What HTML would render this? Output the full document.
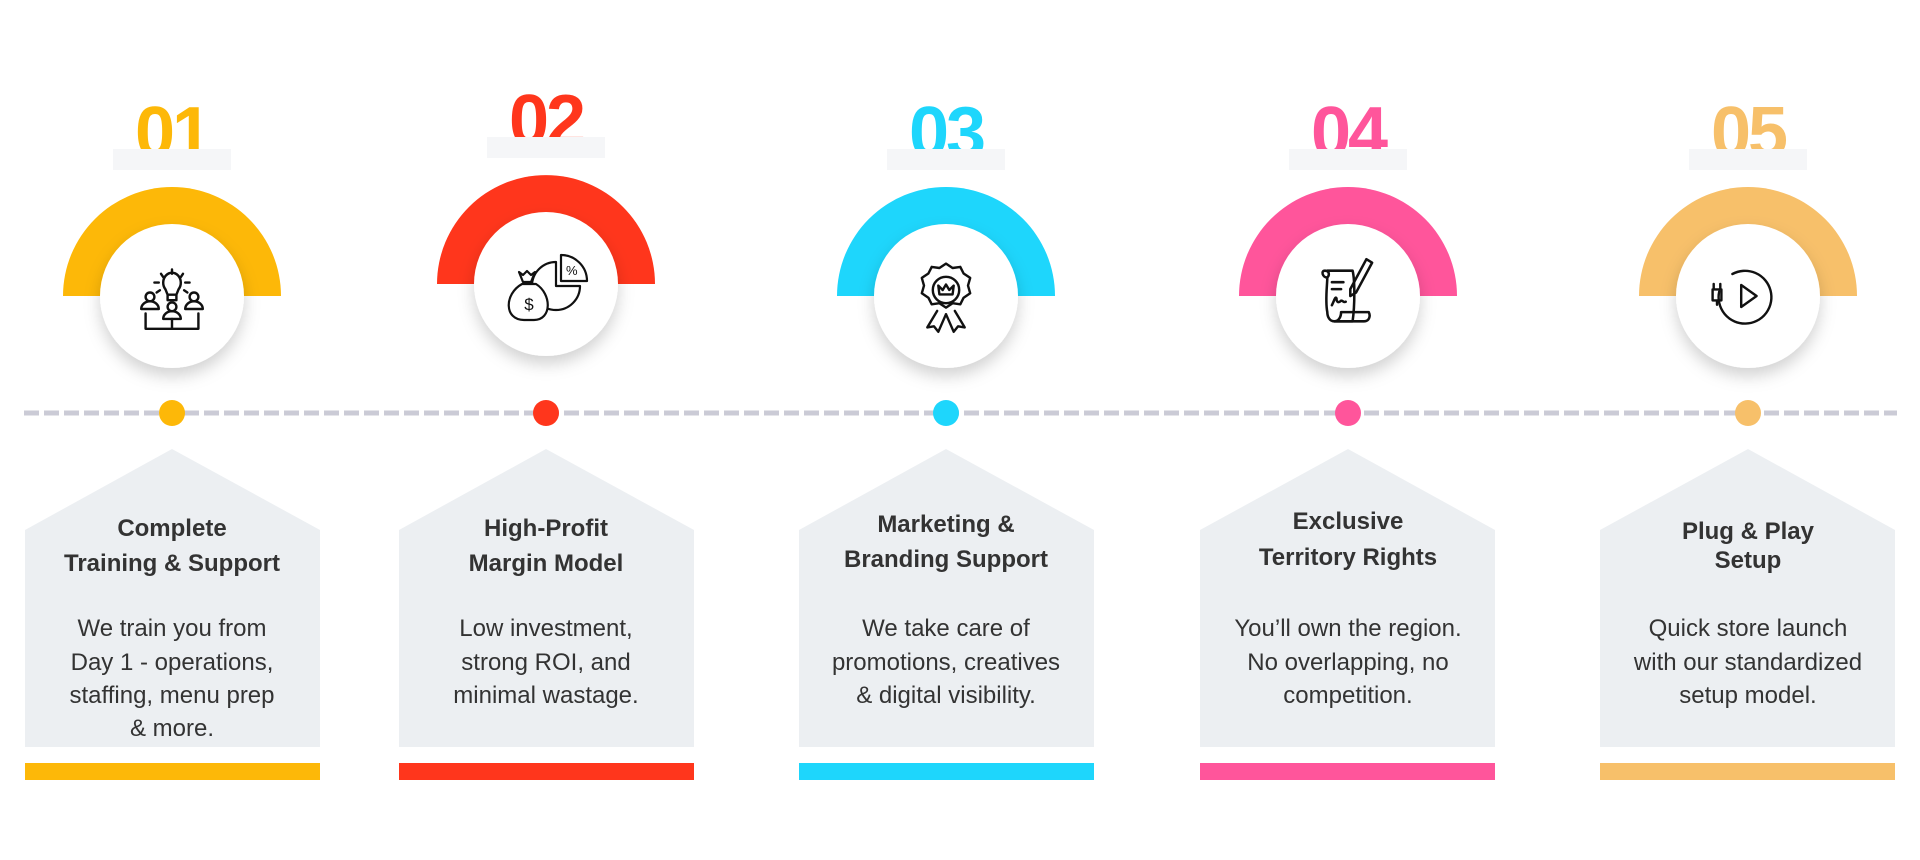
<!DOCTYPE html>
<html><head><meta charset="utf-8"><style>
html,body{margin:0;padding:0;background:#fff;width:1920px;height:860px;overflow:hidden}
svg{display:block}
.num{font-family:"Liberation Sans",sans-serif;font-weight:bold;font-size:72px;letter-spacing:-3px}
.t{font-family:"Liberation Sans",sans-serif;font-weight:bold;font-size:24px;fill:#333}
.b{font-family:"Liberation Sans",sans-serif;font-size:24px;fill:#333}
.ic{fill:none;stroke:#111;stroke-width:2.2;stroke-linecap:round;stroke-linejoin:round}
</style></head><body>
<svg width="1920" height="860" viewBox="0 0 1920 860" xmlns="http://www.w3.org/2000/svg">
<defs>
<filter id="sh" x="-40%" y="-40%" width="180%" height="180%">
<feDropShadow dx="0" dy="8" stdDeviation="8" flood-color="#000" flood-opacity="0.18"/>
</filter>
</defs>

<line x1="24" y1="413" x2="1897" y2="413" stroke="#cbcbd6" stroke-width="5" stroke-dasharray="15 5"/>

<!-- Column 1 -->
<g>
<text x="172" y="157" text-anchor="middle" class="num" fill="#fdb808">01</text>
<rect x="113" y="149" width="118" height="21" fill="#f5f6f8"/>
<path d="M63 296 A109 109 0 0 1 281 296 Z" fill="#fdb808"/>
<circle cx="172" cy="296" r="72" fill="#fff" filter="url(#sh)"/>
<g class="ic" transform="translate(172,298) scale(1.1)">
<path d="M-6 -8 a8 9 0 1 1 12 0 l-2 5 h-8 z M-4 -3 v5 h8 v-5"/>
<path d="M0 -26 v4 M-10 -22 l2 3 M10 -22 l-2 3 M-16 -14 h4 M16 -14 h-4 M-14 -5 l3 -2 M14 -5 l-3 -2"/>
<circle cx="-20" cy="-1" r="4"/><path d="M-28 10 a8 7 0 0 1 16 0 z"/>
<circle cx="20" cy="-1" r="4"/><path d="M12 10 a8 7 0 0 1 16 0 z"/>
<circle cx="0" cy="8" r="4"/><path d="M-8 19 a8 7 0 0 1 16 0 z"/>
<path d="M-24 14 v14 h48 v-14 M0 19 v9"/>
</g>
<circle cx="172" cy="413" r="13" fill="#fdb808"/>
<path d="M25 530 L172 449 L320 530 V747 H25 Z" fill="#eceff2"/>
<rect x="25" y="763" width="295" height="17" fill="#fdb808"/>
<text x="172" y="536" text-anchor="middle" class="t">Complete</text>
<text x="172" y="571" text-anchor="middle" class="t">Training &amp; Support</text>
<text x="172" y="636" text-anchor="middle" class="b">We train you from</text>
<text x="172" y="670" text-anchor="middle" class="b">Day 1 - operations,</text>
<text x="172" y="703" text-anchor="middle" class="b">staffing, menu prep</text>
<text x="172" y="736" text-anchor="middle" class="b">&amp; more.</text>
</g>

<!-- Column 2 -->
<g>
<text x="546" y="145" text-anchor="middle" class="num" fill="#ff361c">02</text>
<rect x="487" y="137" width="118" height="21" fill="#f5f6f8"/>
<path d="M437 284 A109 109 0 0 1 655 284 Z" fill="#ff361c"/>
<circle cx="546" cy="284" r="72" fill="#fff" filter="url(#sh)"/>
<g class="ic" transform="translate(546,286)">
<path d="M10 0 L10 -24 A24 24 0 1 0 34 0 Z"/>
<path d="M15 -5 L15 -31 A26 26 0 0 1 41 -5 Z"/>
<text x="20" y="-11" font-family="Liberation Sans,sans-serif" font-size="13" fill="#111" stroke="none">%</text>
<path d="M-24 -2 C-42 8 -42 34 -22 34 H-12 C6 34 6 8 -10 -2 Z" fill="#fff"/>
<path d="M-27 -14 l4 10 h8 l4 -10 l-4 3 l-4 -4 l-4 4 z" fill="#fff"/>
<text x="-17" y="24" text-anchor="middle" font-family="Liberation Sans,sans-serif" font-size="17" fill="#111" stroke="none">$</text>
</g>
<circle cx="546" cy="413" r="13" fill="#ff361c"/>
<path d="M399 530 L546 449 L694 530 V747 H399 Z" fill="#eceff2"/>
<rect x="399" y="763" width="295" height="17" fill="#ff361c"/>
<text x="546" y="536" text-anchor="middle" class="t">High-Profit</text>
<text x="546" y="571" text-anchor="middle" class="t">Margin Model</text>
<text x="546" y="636" text-anchor="middle" class="b">Low investment,</text>
<text x="546" y="670" text-anchor="middle" class="b">strong ROI, and</text>
<text x="546" y="703" text-anchor="middle" class="b">minimal wastage.</text>
</g>

<!-- Column 3 -->
<g>
<text x="946" y="157" text-anchor="middle" class="num" fill="#1ed6fc">03</text>
<rect x="887" y="149" width="118" height="21" fill="#f5f6f8"/>
<path d="M837 296 A109 109 0 0 1 1055 296 Z" fill="#1ed6fc"/>
<circle cx="946" cy="296" r="72" fill="#fff" filter="url(#sh)"/>
<g class="ic" transform="translate(946,290) scale(1.1)">
<path d="M0 -24 l6 4 l7 -1 l3 6 l6 4 l-2 7 l2 7 l-6 4 l-3 6 l-7 -1 l-6 4 l-6 -4 l-7 1 l-3 -6 l-6 -4 l2 -7 l-2 -7 l6 -4 l3 -6 l7 1 z"/>
<circle cx="0" cy="0" r="12"/>
<path d="M-6 4 l-1 -8 l4 4 l3 -5 l3 5 l4 -4 l-1 8 z"/>
<path d="M-8 19 l-9 15 l6 -1 l4 5 l7 -16 M8 19 l9 15 l-6 -1 l-4 5 l-7 -16"/>
</g>
<circle cx="946" cy="413" r="13" fill="#1ed6fc"/>
<path d="M799 530 L946 449 L1094 530 V747 H799 Z" fill="#eceff2"/>
<rect x="799" y="763" width="295" height="17" fill="#1ed6fc"/>
<text x="946" y="532" text-anchor="middle" class="t">Marketing &amp;</text>
<text x="946" y="567" text-anchor="middle" class="t">Branding Support</text>
<text x="946" y="636" text-anchor="middle" class="b">We take care of</text>
<text x="946" y="670" text-anchor="middle" class="b">promotions, creatives</text>
<text x="946" y="703" text-anchor="middle" class="b">&amp; digital visibility.</text>
</g>

<!-- Column 4 -->
<g>
<text x="1348" y="157" text-anchor="middle" class="num" fill="#ff559b">04</text>
<rect x="1289" y="149" width="118" height="21" fill="#f5f6f8"/>
<path d="M1239 296 A109 109 0 0 1 1457 296 Z" fill="#ff559b"/>
<circle cx="1348" cy="296" r="72" fill="#fff" filter="url(#sh)"/>
<g class="ic" transform="translate(1348,296) scale(1.15)" stroke-width="1.7">
<path d="M-18 -22 h22 c2 8 2 30 0 44 h-16 c-4 0 -6 -4 -6 -8 c-2 -10 0 -24 0 -30 c-4 0 -6 -6 -2 -6 c4 0 4 4 2 6"/>
<path d="M-12 22 c4 0 6 -4 6 -8 h24 c2 4 0 8 -4 8 z"/>
<path d="M-14 -12 h10 M-14 -6 h8"/>
<path d="M-14 8 c2 -4 3 -8 4 -6 c0 4 2 4 4 2 c2 0 2 2 4 1"/>
<path d="M2 -6 l14 -26 l5 3 l-14 26 l-5 3 z"/>
</g>
<circle cx="1348" cy="413" r="13" fill="#ff559b"/>
<path d="M1200 530 L1348 449 L1495 530 V747 H1200 Z" fill="#eceff2"/>
<rect x="1200" y="763" width="295" height="17" fill="#ff559b"/>
<text x="1348" y="529" text-anchor="middle" class="t">Exclusive</text>
<text x="1348" y="565" text-anchor="middle" class="t">Territory Rights</text>
<text x="1348" y="636" text-anchor="middle" class="b">You’ll own the region.</text>
<text x="1348" y="670" text-anchor="middle" class="b">No overlapping, no</text>
<text x="1348" y="703" text-anchor="middle" class="b">competition.</text>
</g>

<!-- Column 5 -->
<g>
<text x="1748" y="157" text-anchor="middle" class="num" fill="#f7c06a">05</text>
<rect x="1689" y="149" width="118" height="21" fill="#f5f6f8"/>
<path d="M1639 296 A109 109 0 0 1 1857 296 Z" fill="#f7c06a"/>
<circle cx="1748" cy="296" r="72" fill="#fff" filter="url(#sh)"/>
<g class="ic" transform="translate(1750,296) scale(1.1)" stroke-width="2.6">
<path d="M-16 -20 a24 24 0 1 1 -12 16"/>
<path d="M-8 -10 v20 l14 -10 z"/>
<path d="M-34 -6 v10 h8 v-10 z M-33 -6 v-5 M-27 -6 v-5 M-30 4 v4"/>
</g>
<circle cx="1748" cy="413" r="13" fill="#f7c06a"/>
<path d="M1600 530 L1748 449 L1895 530 V747 H1600 Z" fill="#eceff2"/>
<rect x="1600" y="763" width="295" height="17" fill="#f7c06a"/>
<text x="1748" y="539" text-anchor="middle" class="t">Plug &amp; Play</text>
<text x="1748" y="568" text-anchor="middle" class="t">Setup</text>
<text x="1748" y="636" text-anchor="middle" class="b">Quick store launch</text>
<text x="1748" y="670" text-anchor="middle" class="b">with our standardized</text>
<text x="1748" y="703" text-anchor="middle" class="b">setup model.</text>
</g>
</svg>
</body></html>
